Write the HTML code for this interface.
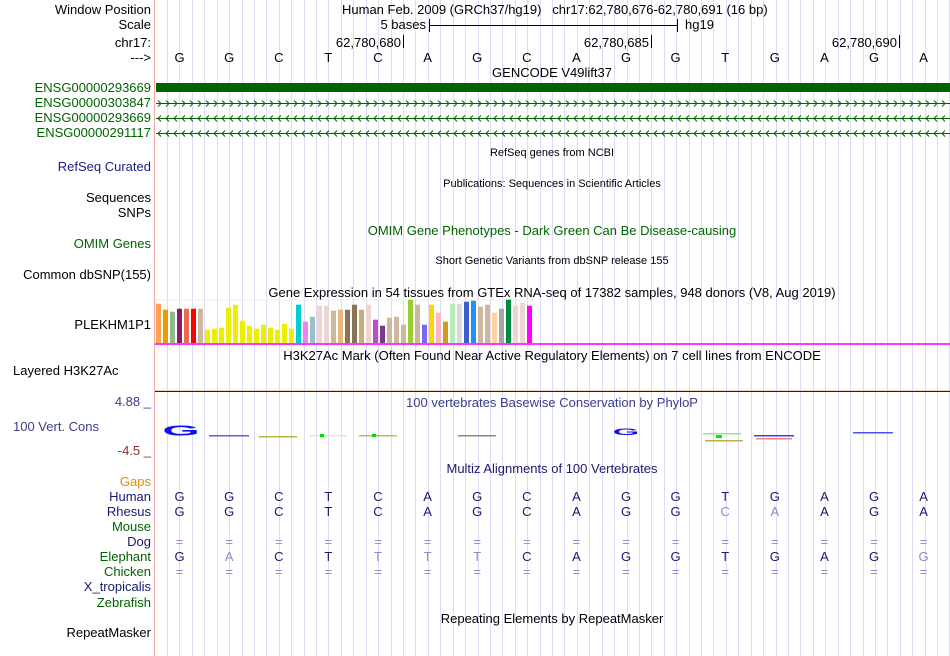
<!DOCTYPE html>
<html><head><meta charset="utf-8"><style>
html,body{margin:0;padding:0;background:#fff}
svg{display:block;font-family:"Liberation Sans",sans-serif}
</style></head><body>
<svg id="s" width="950" height="656" viewBox="0 0 950 656" xmlns="http://www.w3.org/2000/svg">
<g id="grid"></g>
<line x1="154.5" y1="0" x2="154.5" y2="656" stroke="#f4a8a8" stroke-width="1"/>
<g font-size="13" fill="#000" text-anchor="end">
<text x="151" y="14">Window Position</text>
<text x="151" y="29">Scale</text>
<text x="151" y="47">chr17:</text>
<text x="151" y="62">---&gt;</text>
<g fill="#006400">
<text x="151" y="92">ENSG00000293669</text>
<text x="151" y="107">ENSG00000303847</text>
<text x="151" y="122">ENSG00000293669</text>
<text x="151" y="137">ENSG00000291117</text>
</g>
<text x="151" y="171" fill="#1c1c88">RefSeq Curated</text>
<text x="151" y="202">Sequences</text>
<text x="151" y="217">SNPs</text>
<text x="151" y="248" fill="#006400">OMIM Genes</text>
<text x="151" y="279">Common dbSNP(155)</text>
<text x="151" y="329">PLEKHM1P1</text>
<text x="151" y="406" fill="#3c3c8c">4.88 _</text>
<text x="151" y="455" fill="#8b2a2a">-4.5 _</text>
<text x="151" y="486" fill="#e08c00">Gaps</text>
<text x="151" y="501" fill="#191970">Human</text>
<text x="151" y="516" fill="#191970">Rhesus</text>
<text x="151" y="531" fill="#006400">Mouse</text>
<text x="151" y="546" fill="#191970">Dog</text>
<text x="151" y="561" fill="#006400">Elephant</text>
<text x="151" y="576" fill="#006400">Chicken</text>
<text x="151" y="591" fill="#191970">X_tropicalis</text>
<text x="151" y="607" fill="#006400">Zebrafish</text>
<text x="151" y="637">RepeatMasker</text>
</g>
<text x="13" y="375" font-size="13">Layered H3K27Ac</text>
<text x="13" y="431" font-size="13" fill="#3c3c8c">100 Vert. Cons</text>

<g font-size="13" text-anchor="middle">
<text x="342" y="14" text-anchor="start" xml:space="preserve">Human Feb. 2009 (GRCh37/hg19)   chr17:62,780,676-62,780,691 (16 bp)</text>
<text x="552" y="77">GENCODE V49lift37</text>
<text x="552" y="156" font-size="11">RefSeq genes from NCBI</text>
<text x="552" y="187" font-size="11">Publications: Sequences in Scientific Articles</text>
<text x="552" y="235" fill="#006400">OMIM Gene Phenotypes - Dark Green Can Be Disease-causing</text>
<text x="552" y="264" font-size="11">Short Genetic Variants from dbSNP release 155</text>
<text x="552" y="297">Gene Expression in 54 tissues from GTEx RNA-seq of 17382 samples, 948 donors (V8, Aug 2019)</text>
<text x="552" y="360">H3K27Ac Mark (Often Found Near Active Regulatory Elements) on 7 cell lines from ENCODE</text>
<text x="552" y="407" fill="#3c3c8c">100 vertebrates Basewise Conservation by PhyloP</text>
<text x="552" y="473" fill="#191970">Multiz Alignments of 100 Vertebrates</text>
<text x="552" y="623">Repeating Elements by RepeatMasker</text>
</g>

<g font-size="13">
<text x="426" y="29" text-anchor="end">5 bases</text>
<line x1="429.5" y1="19" x2="429.5" y2="32" stroke="#000"/>
<line x1="429.5" y1="25.5" x2="678" y2="25.5" stroke="#000"/>
<line x1="677.5" y1="19" x2="677.5" y2="32" stroke="#000"/>
<text x="685" y="29">hg19</text>
</g>
<g font-size="13" text-anchor="end">
<text x="401" y="47">62,780,680</text><line x1="403.5" y1="35" x2="403.5" y2="48" stroke="#000"/>
<text x="649" y="47">62,780,685</text><line x1="651.5" y1="35" x2="651.5" y2="48" stroke="#000"/>
<text x="897" y="47">62,780,690</text><line x1="899.5" y1="35" x2="899.5" y2="48" stroke="#000"/>
</g>
<g id="bases" font-size="13" text-anchor="middle"></g>

<rect x="156" y="83" width="794" height="9" fill="#006400"/>
<g id="genes" stroke="#006400" fill="none" stroke-width="1"></g>

<g id="gtex"></g>
<rect x="155" y="343" width="795" height="2" fill="#ff33ff"/>

<line x1="155" y1="391.5" x2="950" y2="391.5" stroke="#1c1c50"/>
<line x1="155" y1="390.5" x2="950" y2="390.5" stroke="#d9b47a" stroke-width="0.6"/>

<g id="cons"></g>
<g id="multiz" font-size="13" text-anchor="middle"></g>

<script>
const refBases = ["G","G","C","T","C","A","G","C","A","G","G","T","G","A","G","A"];
const rhesus   = ["G","G","C","T","C","A","G","C","A","G","G","C","A","A","G","A"];
const rhesusPale = [0,0,0,0,0,0,0,0,0,0,0,1,1,0,0,0];
const elephant = ["G","A","C","T","T","T","T","C","A","G","G","T","G","A","G","G"];
const elephantPale = [0,1,0,0,1,1,1,0,0,0,0,0,0,0,0,1];
const gtexValues = [39.3,33.3,31.3,34.3,34.3,34.3,34.3,13.3,14.3,15.3,35.3,38.3,22.3,17.3,14.3,18.3,15.3,13.3,19.3,14.3,38.3,21.3,26.3,37.3,37.3,32.3,33.3,33.3,38.3,33.3,38.3,23.3,17.3,25.3,26.3,18.3,43.3,38.3,18.3,38.3,30.3,21.3,39.3,39.3,41.3,42.3,36.3,38.3,30.3,34.3,43.3,37.3,40.3,37.3];
const gtexColors = ["#FFA54F","#EE9A00","#8FBC8F","#8B1C62","#EE6A50","#FF0000","#CDB79E","#EEEE00","#EEEE00","#EEEE00","#EEEE00","#EEEE00","#EEEE00","#EEEE00","#EEEE00","#EEEE00","#EEEE00","#EEEE00","#EEEE00","#EEEE00","#00CED1","#EE82EE","#9AC0CD","#EED5D2","#EED5D2","#CDB79E","#E8B87A","#8B7355","#8B7355","#CDAA7D","#EED5D2","#B452CD","#7A378B","#CDB79E","#CDB79E","#CDB79E","#9ACD32","#CDB79E","#7B68EE","#FFD700","#FFB6C1","#CD9B1D","#B4EEB4","#D9D9D9","#3A5FCD","#1E90FF","#CDB79E","#CDB79E","#FFD39B","#A6A6A6","#008B45","#EED5D2","#EED5D2","#FF00FF"];

const NS="http://www.w3.org/2000/svg";
function mk(tag, attrs, parent){const e=document.createElementNS(NS,tag);for(const k in attrs)e.setAttribute(k,attrs[k]);parent.appendChild(e);return e;}
const baseX = i => 179.6 + i*49.6;
const gtexX = i => 156 + i*7;
const gtexY = v => 343 - v;

const grid=document.getElementById('grid');
for(let x=167;x<950;x+=12.42){
  const l=mk('line',{x1:Math.round(x)+0.5,y1:0,x2:Math.round(x)+0.5,y2:656,stroke:'#dcdcf4'},grid);
  
  
}
const bases=document.getElementById('bases');
refBases.forEach((b,i)=>{
  const t=mk('text',{x:baseX(i),y:62},bases);t.textContent=b;
  
  
});
const genes=document.getElementById('genes');
[[103,1],[118,-1],[133,-1]].forEach(([y,dir])=>{
  mk('line',{x1:156,y1:y+0.5,x2:950,y2:y+0.5},genes);
  let d='';
  for(let x=158;x<948;x+=8){ d+= dir>0?`M${x} ${y-2.5}L${x+3} ${y+0.5}L${x} ${y+3.5}`:`M${x+3} ${y-2.5}L${x} ${y+0.5}L${x+3} ${y+3.5}`;}
  const p=mk('path',{d:d},genes);
  
  
});
const gtex=document.getElementById('gtex');
mk('rect',{x:156,y:300,width:377,height:43,fill:'none',stroke:'#eeeeee'},gtex);
gtexValues.forEach((v,i)=>{
  const r=mk('rect',{x:gtexX(i),y:gtexY(v),width:5,height:v,fill:gtexColors[i]},gtex);
  
  
});
const cons=document.getElementById('cons');
const g=mk('text',{x:181,y:436,'font-size':'30','font-weight':'bold',fill:'#1010ee','text-anchor':'middle',transform:'translate(181 435) scale(1.6 0.5) translate(-181 -435)'},cons);
g.textContent='G';


const g2=mk('text',{x:626,y:436,'font-size':'20','font-weight':'bold',fill:'#1010ee','text-anchor':'middle',transform:'translate(626 434) scale(1.7 0.45) translate(-626 -434)'},cons);
g2.textContent='G';


[[209,435,40,'#6060dd'],[259,436,38,'#b5b540'],[309,435,38,'#ccf0cc'],[359,435,38,'#b5c060'],[458,435,38,'#a08060'],[703,433,38,'#88ee88'],[705,440,38,'#b5b540'],[754,435,40,'#4040ee'],[756,438,36,'#f08080'],[853,432,40,'#5050ee']].forEach(([x,y,w,c])=>{
  const r=mk('rect',{x:x,y:y,width:w,height:1.5,fill:c},cons);
  
  
});
[[320,434,4,'#00dd00'],[372,434,4,'#00dd00'],[716,435,6,'#00ee00']].forEach(([x,y,w,c])=>{
  const r=mk('rect',{x:x,y:y,width:w,height:3,fill:c},cons);
  
  
});
const mz=document.getElementById('multiz');
const dark='#191970', pale='#8c8cc8';
function row(arr,paleArr,y){arr.forEach((b,i)=>{const t=mk('text',{x:baseX(i),y:y,fill:paleArr&&paleArr[i]?pale:dark},mz);t.textContent=b;
  
  });}
row(refBases,null,501);
row(rhesus,rhesusPale,516);
row(refBases.map(()=>'='),refBases.map(()=>1),546);
row(elephant,elephantPale,561);
row(refBases.map(()=>'='),refBases.map(()=>1),576);
</script>
</svg>
</body></html>
